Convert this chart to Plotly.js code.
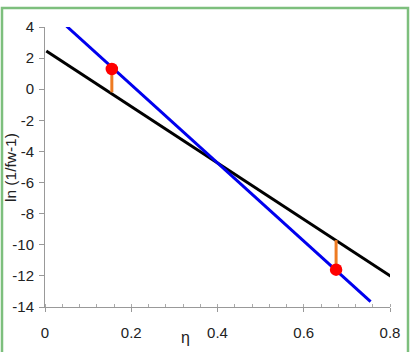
<!DOCTYPE html>
<html>
<head>
<meta charset="utf-8">
<script src="https://cdn.plot.ly/plotly-3.0.1.min.js"></script>
<style>
html,body{margin:0;padding:0;background:#fff;}
#chart{width:411px;height:352px;}
</style>
</head>
<body>
<div id="chart"></div>
<script>
// Data
const blackX = [0.003, 0.806];
const blackY = [2.45, -12.1];
const blueX = [0.05, 0.755];
const blueY = [4.05, -13.65];
const pointX = [0.155, 0.675];
const pointY = [1.3, -11.6];
const gapX1 = [0.155, 0.155];
const gapY1 = [1.3, -0.2];
const gapX2 = [0.675, 0.675];
const gapY2 = [-11.6, -9.7];
const xTickVals = [0, 0.2, 0.4, 0.6, 0.8];
const xTickText = ['0', '0.2', '0.4', '0.6', '0.8'];
const yTickVals = [4, 2, 0, -2, -4, -6, -8, -10, -12, -14];
const yTickText = ['4', '2', '0', '-2', '-4', '-6', '-8', '-10', '-12', '-14'];

const font = 'Liberation Sans, Arial, sans-serif';
const traces = [
  {x: blackX, y: blackY, mode: 'lines', line: {color: '#000000', width: 3}, hoverinfo: 'skip'},
  {x: blueX, y: blueY, mode: 'lines', line: {color: '#0000ee', width: 3}, hoverinfo: 'skip'},
  {x: gapX1, y: gapY1, mode: 'lines', line: {color: '#ee7b22', width: 3}, hoverinfo: 'skip'},
  {x: gapX2, y: gapY2, mode: 'lines', line: {color: '#ee7b22', width: 3}, hoverinfo: 'skip'},
  {x: pointX, y: pointY, mode: 'markers', marker: {color: '#ff0000', size: 12.5}, hoverinfo: 'skip'}
];

const layout = {
  width: 411, height: 352,
  margin: {l: 45, r: 21, t: 27, b: 45, pad: 0},
  paper_bgcolor: '#ffffff', plot_bgcolor: '#ffffff',
  showlegend: false,
  font: {family: font, size: 15, color: '#222'},
  xaxis: {
    range: [0, 0.8], tickvals: xTickVals, ticktext: xTickText,
    showgrid: false, zeroline: false, showline: true, linecolor: '#999', linewidth: 1,
    ticks: 'outside', ticklen: 4, tickcolor: '#999', ticklabelstandoff: 8,
    minor: {dtick: 0.04, ticks: 'inside', ticklen: 3, tickcolor: '#aaa', showgrid: false},
    tickfont: {family: font, size: 15, color: '#222'}
  },
  yaxis: {
    range: [-14, 4], tickvals: yTickVals, ticktext: yTickText,
    showgrid: false, zeroline: false, showline: true, linecolor: '#999', linewidth: 1,
    ticks: 'outside', ticklen: 5, tickcolor: '#999', ticklabelstandoff: 2,
    tickfont: {family: font, size: 15, color: '#222'}
  },
  annotations: [
    {text: 'η', xref: 'paper', yref: 'paper', x: (185 - 45) / 345, y: -(337 - 307) / 280,
     showarrow: false, font: {family: font, size: 16, color: '#222'}, xanchor: 'center', yanchor: 'middle'},
    {text: 'ln (1/fw-1)', xref: 'paper', yref: 'paper', x: (10 - 45) / 345, y: (307 - 168) / 280,
     textangle: -90, showarrow: false, font: {family: font, size: 15.5, color: '#222'}, xanchor: 'center', yanchor: 'middle'}
  ],
  shapes: [
    {type: 'rect', xref: 'paper', yref: 'paper',
     x0: (2 - 45) / 345, x1: (408 - 45) / 345, y0: -(360 - 307) / 280, y1: (307 - 8) / 280,
     line: {color: '#7dbf7d', width: 2.5}, fillcolor: 'rgba(0,0,0,0)', layer: 'below'}
  ]
};

Plotly.newPlot('chart', traces, layout, {staticPlot: true, displayModeBar: false});
</script>
</body>
</html>
